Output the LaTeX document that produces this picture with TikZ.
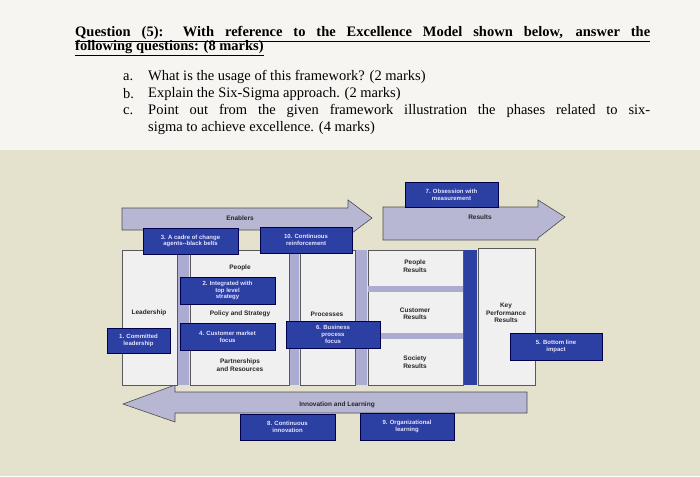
\documentclass[tikz,border=0pt]{standalone}
\usepackage{fontspec}
\setmainfont{Liberation Serif}
\newfontfamily\dsans{Liberation Sans}
\definecolor{bbox}{HTML}{2C3FA3}
\begin{document}
\begin{tikzpicture}[x=1pt,y=-1pt,
 blu/.style={fill=bbox,draw=blue!30!black,text=white!90!blue,font=\dsans\bfseries\fontsize{6}{6.8}\selectfont,align=center,inner sep=0pt},
 wb/.style={fill=gray!12,draw=gray!70!black,line width=0.6pt},
 lbl/.style={font=\dsans\bfseries\fontsize{6.5}{7.4}\selectfont,align=center,text=black!85,inner sep=0pt},
 arr/.style={fill=blue!25!gray!45,draw=gray!60!black,line width=0.6pt},
 strip/.style={fill=blue!30!gray!50,draw=none},
 dstrip/.style={fill=bbox,draw=none},
 q/.style={font=\fontsize{14.5}{16}\selectfont,anchor=west,inner sep=0pt}]
\useasboundingbox (0,0) rectangle (700,476);
\fill[yellow!15!gray!10] (0,0) rectangle (700,476);
\fill[yellow!30!gray!35] (0,150) rectangle (700,476);
% question text
\node[q,font=\bfseries\fontsize{14.5}{16}\selectfont] (t1) at (75,34) {\underline{\makebox[575pt][s]{Question (5): With reference to the Excellence Model shown below, answer the}}};
\node[q,font=\bfseries\fontsize{14.5}{16}\selectfont] (t2) at (75,48) {\underline{following questions: (8 marks)}};
\node[q] (qa) at (123,77) {a.};
\node[q] (qat) at (148,77) {What is the usage of this framework? (2 marks)};
\node[q] (qb) at (123,94) {b.};
\node[q] (qbt) at (148,94) {Explain the Six-Sigma approach. (2 marks)};
\node[q] (qc) at (123,111) {c.};
\node[q] (qct) at (148,111) {\makebox[502pt][s]{Point out from the given framework illustration the phases related to six-}};
\node[q] (qct2) at (148,128) {sigma to achieve excellence. (4 marks)};
% arrows
\draw[arr] (122,208) -- (348,208) -- (348,200) -- (372,218) -- (348,236) -- (348,230) -- (122,230) -- cycle;
\node[lbl] (en) at (240,218) {Enablers};
\draw[arr] (383,207) -- (538,207) -- (538,200) -- (565,217) -- (538,238) -- (538,240) -- (383,240) -- cycle;
\node[lbl] (re) at (480,217) {Results};
\draw[arr] (527,392) -- (175,392) -- (175,385) -- (123,404) -- (175,422) -- (175,413) -- (527,413) -- cycle;
\node[lbl] (il) at (337,405) {Innovation and Learning};
% strips
\fill[strip] (178,250) rectangle (189,385);
\fill[strip] (290,250) rectangle (299,385);
\fill[strip] (356,250) rectangle (367,385);
\fill[dstrip] (464,250) rectangle (477,385);
% boxes
\draw[wb] (122,250) rectangle (177,385);
\draw[wb] (190,250) rectangle (289,385);
\draw[wb] (300,250) rectangle (355,385);
\draw[wb] (368,250) rectangle (463,385);
\draw[wb] (478,248) rectangle (535,385);
\fill[strip] (368,286) rectangle (463,292);
\fill[strip] (368,333) rectangle (463,339);
\node[lbl] (ld) at (149,313) {Leadership};
\node[lbl] (pe) at (240,268) {People};
\node[lbl] (ps) at (240,314) {Policy and Strategy};
\node[lbl] (pr) at (240,365) {Partnerships\\and Resources};
\node[lbl] (pc) at (327,314) {Processes};
\node[lbl] (pres) at (415,266) {People\\Results};
\node[lbl] (cres) at (415,314) {Customer\\Results};
\node[lbl] (sres) at (415,362) {Society\\Results};
\node[lbl] (kpr) at (506,313) {Key\\Performance\\Results};
% blue boxes
\node[blu,minimum width=93pt,minimum height=25pt] (b7) at (451.5,194.5) {7. Obsession with\\measurement};
\node[blu,minimum width=95pt,minimum height=26pt] (b3) at (190.5,241) {3. A cadre of change\\agents--black belts};
\node[blu,minimum width=92pt,minimum height=26pt] (b10) at (306,240) {10. Continuous\\reinforcement};
\node[blu,minimum width=95pt,minimum height=27pt] (b2) at (227.5,290.5) {2. Integrated with\\top level\\strategy};
\node[blu,minimum width=95pt,minimum height=27pt] (b4) at (227.5,336.5) {4. Customer market\\focus};
\node[blu,minimum width=63pt,minimum height=25pt] (b1) at (138.5,340.5) {1. Committed\\leadership};
\node[blu,minimum width=94pt,minimum height=27pt] (b6) at (333,334.5) {6. Business\\process\\focus};
\node[blu,minimum width=92pt,minimum height=27pt] (b5) at (556,346.5) {5. Bottom line\\impact};
\node[blu,minimum width=95pt,minimum height=26pt] (b8) at (287.5,427) {8. Continuous\\innovation};
\node[blu,minimum width=94pt,minimum height=27pt] (b9) at (407,426.5) {9. Organizational\\learning};
\end{tikzpicture}
\end{document}
